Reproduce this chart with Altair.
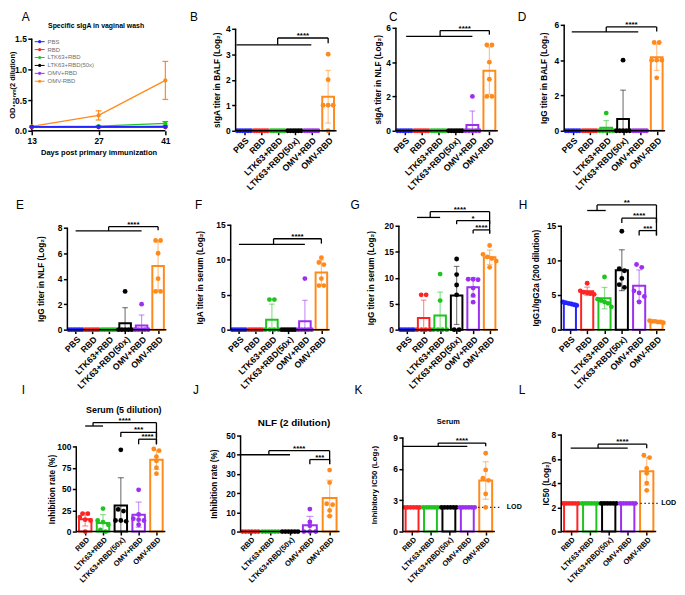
import json
import numpy as np
import pandas as pd
import altair as alt

FONT = "Liberation Sans"

GROUPS6 = ["PBS", "RBD", "LTK63+RBD", "LTK63+RBD(50x)", "OMV+RBD", "OMV-RBD"]
GROUPS5 = GROUPS6[1:]
GROUP_COLORS = ["#2424ff", "#ff2424", "#1fc41f", "#000000", "#9c2ff0", "#ff8a1c"]
COLOR_OF = dict(zip(GROUPS6, GROUP_COLORS))

# ---------------- Panel A (line chart) ----------------
A_DAYS = [13, 27, 41]
A_MEAN = {
    "PBS": [0.065, 0.065, 0.065],
    "RBD": [0.06, 0.06, 0.06],
    "LTK63+RBD": [0.065, 0.075, 0.12],
    "LTK63+RBD(50x)": [0.06, 0.065, 0.07],
    "OMV+RBD": [0.055, 0.055, 0.055],
    "OMV-RBD": [0.07, 0.25, 0.82],
}
A_SD = {
    "PBS": [0.0, 0.0, 0.0],
    "RBD": [0.0, 0.0, 0.0],
    "LTK63+RBD": [0.0, 0.01, 0.03],
    "LTK63+RBD(50x)": [0.0, 0.0, 0.0],
    "OMV+RBD": [0.0, 0.0, 0.0],
    "OMV-RBD": [0.01, 0.075, 0.31],
}

# ---------------- Bar panels: replicate values per group ----------------
B_VALUES = [[0] * 6, [0] * 6, [0] * 6, [0] * 6, [0] * 6, [3, 2, 1, 1, 1, 0]]
C_VALUES = [[0] * 6, [0] * 6, [0] * 6, [0] * 6, [2, 0, 0, 0, 0, 0], [5, 5, 4, 3, 2, 2]]
D_VALUES = [[0] * 6, [0] * 6, [1, 0, 0, 0, 0, 0], [4, 0, 0, 0, 0, 0], [0] * 6, [5, 5, 4, 4, 4, 3]]
E_VALUES = [[0] * 6, [0] * 6, [0] * 6, [3, 0, 0, 0, 0, 0], [2, 0, 0, 0, 0, 0], [7, 7, 6, 4, 3, 3]]
F_VALUES = [[0] * 6, [0] * 6, [4.3, 4.3, 0, 0, 0, 0], [0] * 6, [7.3, 0, 0, 0, 0, 0],
            [10.3, 9.6, 9.3, 7.3, 6.3, 6.3]]
G_VALUES = [[0] * 6, [6.7, 6.7, 0, 0, 0, 0], [10.7, 5.6, 0, 0, 0, 0], [13.6, 10.6, 8.6, 6.7, 0, 0],
            [9.7, 9.7, 9.6, 8.0, 6.6, 5.3], [16.2, 14.5, 14.0, 13.7, 13.2, 12.0]]
H_VALUES = [[4.0, 3.9, 3.8, 3.7, 3.6, 3.5], [6.7, 5.6, 5.4, 5.3, 5.2, 5.1], [7.6, 4.4, 4.2, 4.0, 3.8, 3.3],
            [14.2, 8.8, 8.5, 7.4, 6.5, 6.1], [9.4, 9.0, 5.6, 5.3, 4.8, 4.0], [1.3, 1.2, 1.2, 1.1, 1.1, 1.0]]
I_VALUES = [[21, 21, 17, 14, 13, 0], [27, 13, 11, 8, 2, 0], [96, 26, 24, 13, 13, 12],
            [49, 20, 15, 14, 13, 8], [97, 95, 88, 83, 75, 68]]
J_VALUES = [[0] * 6, [0] * 6, [0] * 6, [11.7, 5, 3, 0, 0, 0], [32, 25.5, 14.5, 14, 11, 8]]
K_VALUES = [[2.32] * 6, [2.32] * 6, [2.32] * 6, [2.32] * 6, [7.5, 5.9, 5.1, 4.9, 3.6, 2.32]]
L_VALUES = [[2.32] * 6, [2.32] * 6, [2.32] * 6, [2.32] * 6, [6.3, 6.1, 5.2, 4.8, 4.0, 3.4]]
LOD_VALUE = 2.32

# significance brackets: (group start, group end, connector, target, y_group, y_top, y_target_end, label)
B_BRACKETS = [(-0.45, 4.0, 2.0, 5, 3.37, 3.64, 3.43, "****")]
C_BRACKETS = [(0.1, 4.0, 2.1, 5, 5.5, 5.84, 5.6, "****")]
D_BRACKETS = [(-0.05, 3.9, 2.0, 5, 5.6, 5.88, 5.62, "****")]
E_BRACKETS = [(0, 4, 2, 5, 7.75, 8.08, 7.8, "****")]
F_BRACKETS = [(0, 4, 2.1, 5, 12.2, 13.0, 12.3, "****")]
G_BRACKETS = [(0.6, 2.0, 1.4, 5, 21.6, 22.7, 18.5, "****"), (3, 3, 3, 5, 20.3, 21.0, 20.3, "*"),
              (4, 4, 4, 5, 18.5, 19.2, 18.5, "****")]
H_BRACKETS = [(1.0, 2.07, 1.57, 5, 17.2, 18.0, 13.6, "**"), (3, 3, 3, 5, 15.4, 16.1, 15.4, "****"),
              (4, 4, 4, 5, 13.6, 14.3, 13.6, "***")]
I_BRACKETS = [(0, 1, 0.44, 4, 124, 128, 102.5, "****"), (2, 2, 2, 4, 111, 116.6, 111, "***"),
              (3, 3, 3, 4, 102.5, 108.5, 102.5, "****")]
J_BRACKETS = [(-0.5, 2, 0.93, 4, 40, 42.1, 35.1, "****"), (3, 3, 3, 4, 35.1, 37.5, 35.1, "***")]
K_BRACKETS = [(-0.5, 3, 1.42, 4, 8.16, 8.47, 8.16, "****")]
L_BRACKETS = [(0, 3, 1.44, 4, 6.88, 7.21, 6.88, "****")]


# ---------------- helpers ----------------
def axis_y(ticks, title, title_x, title_y, fmt, title_size, shift):
    return alt.Axis(values=ticks, format=fmt, domain=False, grid=False, tickSize=4, tickWidth=1.5,
                    tickColor="black", labelFontSize=8.5, labelFontWeight="bold", labelColor="black",
                    labelPadding=1.5, labelFont=FONT, title=title, titleFontSize=title_size,
                    titleFontWeight="bold", titleColor="black", titleFont=FONT, titleAngle=270,
                    titleAlign="center", titleBaseline="middle", titleX=title_x, titleY=title_y,
                    offset=-shift)


def axis_x_cat(groups, fs, tick, pad):
    return alt.Axis(values=list(range(len(groups))), labelExpr=json.dumps(groups) + "[datum.value]",
                    domain=False, grid=False, tickSize=tick, tickWidth=1.5, tickColor="black",
                    labelAngle=315, labelAlign="right", labelBaseline="top", labelFontSize=fs,
                    labelFontWeight="bold", labelColor="black", labelPadding=pad, labelOverlap=False,
                    labelFont=FONT, title=None)


def spread(v, tol):
    order = sorted(range(len(v)), key=lambda k: -v[k])
    offs = [0.0] * len(v)
    clusters = [[order[0]]]
    for k in order[1:]:
        if abs(v[clusters[-1][-1]] - v[k]) <= tol:
            clusters[-1].append(k)
        else:
            clusters.append([k])
    for cl in clusters:
        c = len(cl)
        step = min(0.3, 0.8 / (c - 1)) if c > 1 else 0
        for j, k in enumerate(cl):
            offs[k] = (j - (c - 1) / 2) * step
    return offs


def text_layer(t, x, y, size, weight="normal", align="left", baseline="top"):
    return alt.Chart(pd.DataFrame({"t": [t]})).mark_text(
        align=align, baseline=baseline, fontSize=size, fontWeight=weight, font=FONT, color="black"
    ).encode(x=alt.value(x), y=alt.value(y), text="t:N")


def bar_panel(letter, groups, vals, ymax, ticks, ytitle, brackets, lay, lod=None):
    n = len(groups)
    cl, cr = lay["col"]
    L, R = lay["L"], lay["R"]
    H, top = lay["H"], lay["top"]
    shift = L - cl
    step = (R - L) / n
    x0 = -0.5 - shift / step
    x1 = n - 0.5 + (cr - R) / step
    ydom = ymax * H / (H - top)
    xs = alt.Scale(domain=[x0, x1], nice=False, zero=False)
    ys = alt.Scale(domain=[0, ydom], nice=False, zero=False)
    xa = axis_x_cat(groups, lay.get("xfs", 8.8), lay.get("tick", 4), lay.get("pad", 1))
    ya = axis_y(ticks, ytitle, lay["tx"], (top + H) / 2, "d", lay.get("ts", 8.3), shift)

    def X(f):
        return alt.X(f, type="quantitative", scale=xs, axis=xa)

    def Y(f):
        return alt.Y(f, type="quantitative", scale=ys, axis=ya)

    cs = alt.Scale(domain=groups, range=[COLOR_OF[g] for g in groups])
    tol = 0.035 * ymax
    bars, errs, caps, pts = [], [], [], []
    for i, (g, v) in enumerate(zip(groups, vals)):
        arr = np.array(v, dtype=float)
        m = float(arr.mean())
        sd = float(arr.std(ddof=1))
        bars.append(dict(x=i - 0.35, x2=i + 0.35, y=0.0, y2=m, g=g))
        if sd > 1e-9:
            lo = max(0.0, m - sd)
            hi = m + sd
            errs.append(dict(x=float(i), y=lo, y2=hi, g=g))
            caps.append(dict(x=i - 0.17, x2=i + 0.17, y=hi, g=g))
            if m - sd > 0:
                caps.append(dict(x=i - 0.17, x2=i + 0.17, y=lo, g=g))
        offs = spread(list(arr), tol)
        for val, o in zip(arr, offs):
            pts.append(dict(x=i + o, y=float(val), g=g))

    layers = []
    layers.append(alt.Chart(pd.DataFrame(bars)).mark_rect(fill="white", strokeWidth=2).encode(
        x=X("x"), x2="x2", y=Y("y"), y2="y2", stroke=alt.Stroke("g:N", scale=cs, legend=None)))
    if lod is not None:
        ext = lod[1] / step
        tx = lod[2] / step
        layers.append(alt.Chart(pd.DataFrame({"x": [-0.5], "x2": [n - 0.5 + ext], "y": [LOD_VALUE]}))
                      .mark_rule(strokeDash=[1.5, 2.5], strokeWidth=1.3, color="#333333")
                      .encode(x=X("x"), x2="x2", y=Y("y")))
        layers.append(alt.Chart(pd.DataFrame({"x": [n - 0.5 + tx], "y": [LOD_VALUE], "t": ["LOD"]}))
                      .mark_text(align="left", baseline="middle", fontSize=7.2, fontWeight="bold",
                                 color="black")
                      .encode(x=X("x"), y=Y("y"), text="t:N"))
    if errs:
        layers.append(alt.Chart(pd.DataFrame(errs)).mark_rule(strokeWidth=1.2, opacity=0.5).encode(
            x=X("x"), y=Y("y"), y2="y2", color=alt.Color("g:N", scale=cs, legend=None)))
        layers.append(alt.Chart(pd.DataFrame(caps)).mark_rule(strokeWidth=1.2, opacity=0.5).encode(
            x=X("x"), x2="x2", y=Y("y"), color=alt.Color("g:N", scale=cs, legend=None)))
    layers.append(alt.Chart(pd.DataFrame(pts)).mark_circle(size=24, opacity=1).encode(
        x=X("x"), y=Y("y"), color=alt.Color("g:N", scale=cs, legend=None)))
    # axis lines
    layers.append(alt.Chart(pd.DataFrame({"x": [-0.5], "y": [0.0], "y2": [float(ymax)]}))
                  .mark_rule(strokeWidth=1.5, color="black").encode(x=X("x"), y=Y("y"), y2="y2"))
    layers.append(alt.Chart(pd.DataFrame({"x": [-0.5], "x2": [n - 0.5], "y": [0.0]}))
                  .mark_rule(strokeWidth=1.5, color="black").encode(x=X("x"), x2="x2", y=Y("y")))
    # brackets
    segs, stars = [], []
    for (a, b, mid, c, y1, y2, y3, lab) in brackets:
        if b > a:
            segs.append(dict(x=a, x2=b, y=y1, y2=y1))
        if y2 > y1:
            segs.append(dict(x=mid, x2=mid, y=y1, y2=y2))
        segs.append(dict(x=mid, x2=c, y=y2, y2=y2))
        segs.append(dict(x=c, x2=c, y=y3, y2=y2))
        stars.append(dict(x=(mid + c) / 2, y=y2, t=lab))
    layers.append(alt.Chart(pd.DataFrame(segs)).mark_rule(strokeWidth=1.3, color="black").encode(
        x=X("x"), x2="x2", y=Y("y"), y2="y2"))
    layers.append(alt.Chart(pd.DataFrame(stars)).mark_text(
        baseline="alphabetic", fontSize=8, fontWeight="bold", color="black").encode(
        x=X("x"), y=Y("y"), text="t:N"))
    lx, ly = lay["letter"]
    layers.append(text_layer(letter, shift + lx, ly, 12))
    if "title" in lay:
        t, tx_, ty_, ts_ = lay["title"]
        layers.append(text_layer(t, shift + tx_, ty_, ts_, "bold", "center", "middle"))
    return alt.layer(*layers).properties(width=cr - cl, height=H)


def line_panel(lay):
    cl, cr = lay["col"]
    L, R = lay["L"], lay["R"]
    H, top = lay["H"], lay["top"]
    shift = L - cl
    ppu = (R - L) / (A_DAYS[-1] - A_DAYS[0])
    x0 = A_DAYS[0] - shift / ppu
    x1 = A_DAYS[-1] + (cr - R) / ppu
    ymax = 1.5
    ydom = ymax * H / (H - top)
    xs = alt.Scale(domain=[x0, x1], nice=False, zero=False)
    ys = alt.Scale(domain=[0, ydom], nice=False, zero=False)
    xa = alt.Axis(values=A_DAYS, labelAngle=0, labelFontSize=8.5, labelFontWeight="bold",
                  labelColor="black", labelPadding=2, domain=False,
                  tickColor="black", tickWidth=1.5, tickSize=4, grid=False,
                  title="Days post primary immunization", titleFontSize=7.6, titleFontWeight="bold",
                  titleColor="black", titlePadding=4, titleX=shift + (R - L) / 2)
    ya = axis_y([0, 0.5, 1.0, 1.5], "OD₄₅₀ₙₘ(2 dilution)", lay["tx"], (top + H) / 2, ".1f", 7.5, shift)

    def X(f):
        return alt.X(f, type="quantitative", scale=xs, axis=xa)

    def Y(f):
        return alt.Y(f, type="quantitative", scale=ys, axis=ya)

    layers = [alt.Chart(pd.DataFrame({"x": [A_DAYS[0]], "y": [0.0], "y2": [1.5]}))
              .mark_rule(strokeWidth=1.5, color="black").encode(x=X("x"), y=Y("y"), y2="y2"),
              alt.Chart(pd.DataFrame({"x": [A_DAYS[0]], "x2": [A_DAYS[-1]], "y": [0.0]}))
              .mark_rule(strokeWidth=1.5, color="black").encode(x=X("x"), x2="x2", y=Y("y"))]
    cap = 0.6
    for s in reversed(GROUPS6):
        col = COLOR_OF[s]
        mean = np.array(A_MEAN[s])
        sd = np.array(A_SD[s])
        df = pd.DataFrame({"x": A_DAYS, "y": mean, "lo": mean - sd, "hi": mean + sd,
                           "xl": np.array(A_DAYS) - cap, "xr": np.array(A_DAYS) + cap, "sd": sd})
        layers.append(alt.Chart(df).mark_line(strokeWidth=1.3, color=col).encode(x=X("x"), y=Y("y")))
        dfe = df[df["sd"] > 0.005]
        if len(dfe):
            layers.append(alt.Chart(dfe).mark_rule(strokeWidth=1.2, color=col).encode(
                x=X("x"), y=Y("lo"), y2="hi"))
            layers.append(alt.Chart(dfe).mark_rule(strokeWidth=1.2, color=col).encode(
                x=X("xl"), x2="xr", y=Y("hi")))
            layers.append(alt.Chart(dfe).mark_rule(strokeWidth=1.2, color=col).encode(
                x=X("xl"), x2="xr", y=Y("lo")))
        layers.append(alt.Chart(df).mark_circle(size=18, opacity=1, color=col).encode(x=X("x"), y=Y("y")))
    # legend
    for i, s in enumerate(GROUPS6):
        col = COLOR_OF[s]
        yy = 30 + 8 * i
        d1 = pd.DataFrame({"t": [s]})
        layers.append(alt.Chart(d1).mark_rule(strokeWidth=1, color=col).encode(
            x=alt.value(shift + 3), x2=alt.value(shift + 13), y=alt.value(yy)))
        layers.append(alt.Chart(d1).mark_circle(size=10, opacity=1, color=col).encode(
            x=alt.value(shift + 8), y=alt.value(yy)))
        layers.append(alt.Chart(d1).mark_text(align="left", baseline="middle", fontSize=6,
                                              color="#6f6f6f").encode(
            x=alt.value(shift + 16), y=alt.value(yy), text="t:N"))
    lx, ly = lay["letter"]
    layers.append(text_layer("A", shift + lx, ly, 12))
    t, tx_, ty_, ts_ = lay["title"]
    layers.append(text_layer(t, shift + tx_, ty_, ts_, "bold", "center", "middle"))
    return alt.layer(*layers).properties(width=cr - cl, height=H)


# ---------------- layout (chart pixel positions) ----------------
COL1, COL2, COL3, COL4 = (0, 162), (162, 337), (337, 497), (497, 664)
H1, H2, H3 = 120, 201, 204
R3 = dict(xfs=7.6, tick=3.5, pad=0.5)

pA = line_panel(dict(col=COL1, L=24, R=159, H=H1, top=27, tx=-19, letter=(-10, 0),
                     title=("Specific sIgA in vaginal wash", 65, 14, 7)))
pB = bar_panel("B", GROUPS6, B_VALUES, 4, [0, 1, 2, 3, 4], "sIgA titer in BALF (Log₂)", B_BRACKETS,
               dict(col=COL2, L=230, R=332, H=H1, top=17, tx=-18, letter=(-46, 0)))
pC = bar_panel("C", GROUPS6, C_VALUES, 6, [0, 2, 4, 6], "sIgA titer in NLF (Log₂)", C_BRACKETS,
               dict(col=COL3, L=392, R=495, H=H1, top=16, tx=-18, letter=(-7, 0)))
pD = bar_panel("D", GROUPS6, D_VALUES, 6, [0, 2, 4, 6], "IgG titer in BALF (Log₂)", D_BRACKETS,
               dict(col=COL4, L=562, R=664, H=H1, top=13, tx=-20, letter=(-47, 0)))

pE = bar_panel("E", GROUPS6, E_VALUES, 8, [0, 2, 4, 6, 8], "IgG titer in NLF (Log₂)", E_BRACKETS,
               dict(col=COL1, L=60, R=160, H=H2, top=98, tx=-26, letter=(-52, 70)))
pF = bar_panel("F", GROUPS6, F_VALUES, 15, [0, 5, 10, 15], "IgA titer in serum (Log₂)", F_BRACKETS,
               dict(col=COL2, L=225, R=325, H=H2, top=95, tx=-30, letter=(-36, 70)))
pG = bar_panel("G", GROUPS6, G_VALUES, 20, [0, 5, 10, 15, 20], "IgG titer in serum (Log₂)", G_BRACKETS,
               dict(col=COL3, L=395, R=495, H=H2, top=96, tx=-28, letter=(-49, 70)))
pH = bar_panel("H", GROUPS6, H_VALUES, 15, [0, 5, 10, 15], "IgG1/IgG2a (200 dilution)", H_BRACKETS,
               dict(col=COL4, L=559, R=664, H=H2, top=96, tx=-25, letter=(-43, 70)))

pI = bar_panel("I", GROUPS5, I_VALUES, 100, [0, 25, 50, 75, 100], "Inhibition rate (%)", I_BRACKETS,
               dict(col=COL1, L=69, R=159, H=H3, top=118, tx=-24, letter=(-55, 56),
                    title=("Serum (5 dilution)", 48, 81, 9), **R3))
pJ = bar_panel("J", GROUPS5, J_VALUES, 50, [0, 10, 20, 30, 40, 50], "Inhibition rate (%)", J_BRACKETS,
               dict(col=COL2, L=235, R=335, H=H3, top=107, tx=-26, letter=(-48, 56),
                    title=("NLF (2 dilution)", 54, 94, 10), **R3))
pK = bar_panel("K", GROUPS5, K_VALUES, 9, [0, 3, 6, 9], "Inhibitory IC50 (Log₂)", K_BRACKETS,
               dict(col=COL3, L=399, R=492, H=H3, top=109, tx=-29, ts=7.8, letter=(-49, 56),
                    title=("Serum", 46, 93, 7.5), **R3), lod=(LOD_VALUE, 7, 12))
pL = bar_panel("L", GROUPS5, L_VALUES, 8, [0, 2, 4, 6, 8], "IC50 (Log₂)", L_BRACKETS,
               dict(col=COL4, L=559, R=655, H=H3, top=106, tx=-15, letter=(-43, 56), **R3),
               lod=(LOD_VALUE, 3, 5))

cells = [pA, pB, pC, pD, pE, pF, pG, pH, pI, pJ, pK, pL]
chart = alt.concat(*cells, columns=4, spacing=0, bounds="flush").properties(padding=0)
chart = chart.configure(font=FONT).configure_view(stroke=None)
chart.save("out.html", embed_options={"renderer": "svg", "actions": False})
